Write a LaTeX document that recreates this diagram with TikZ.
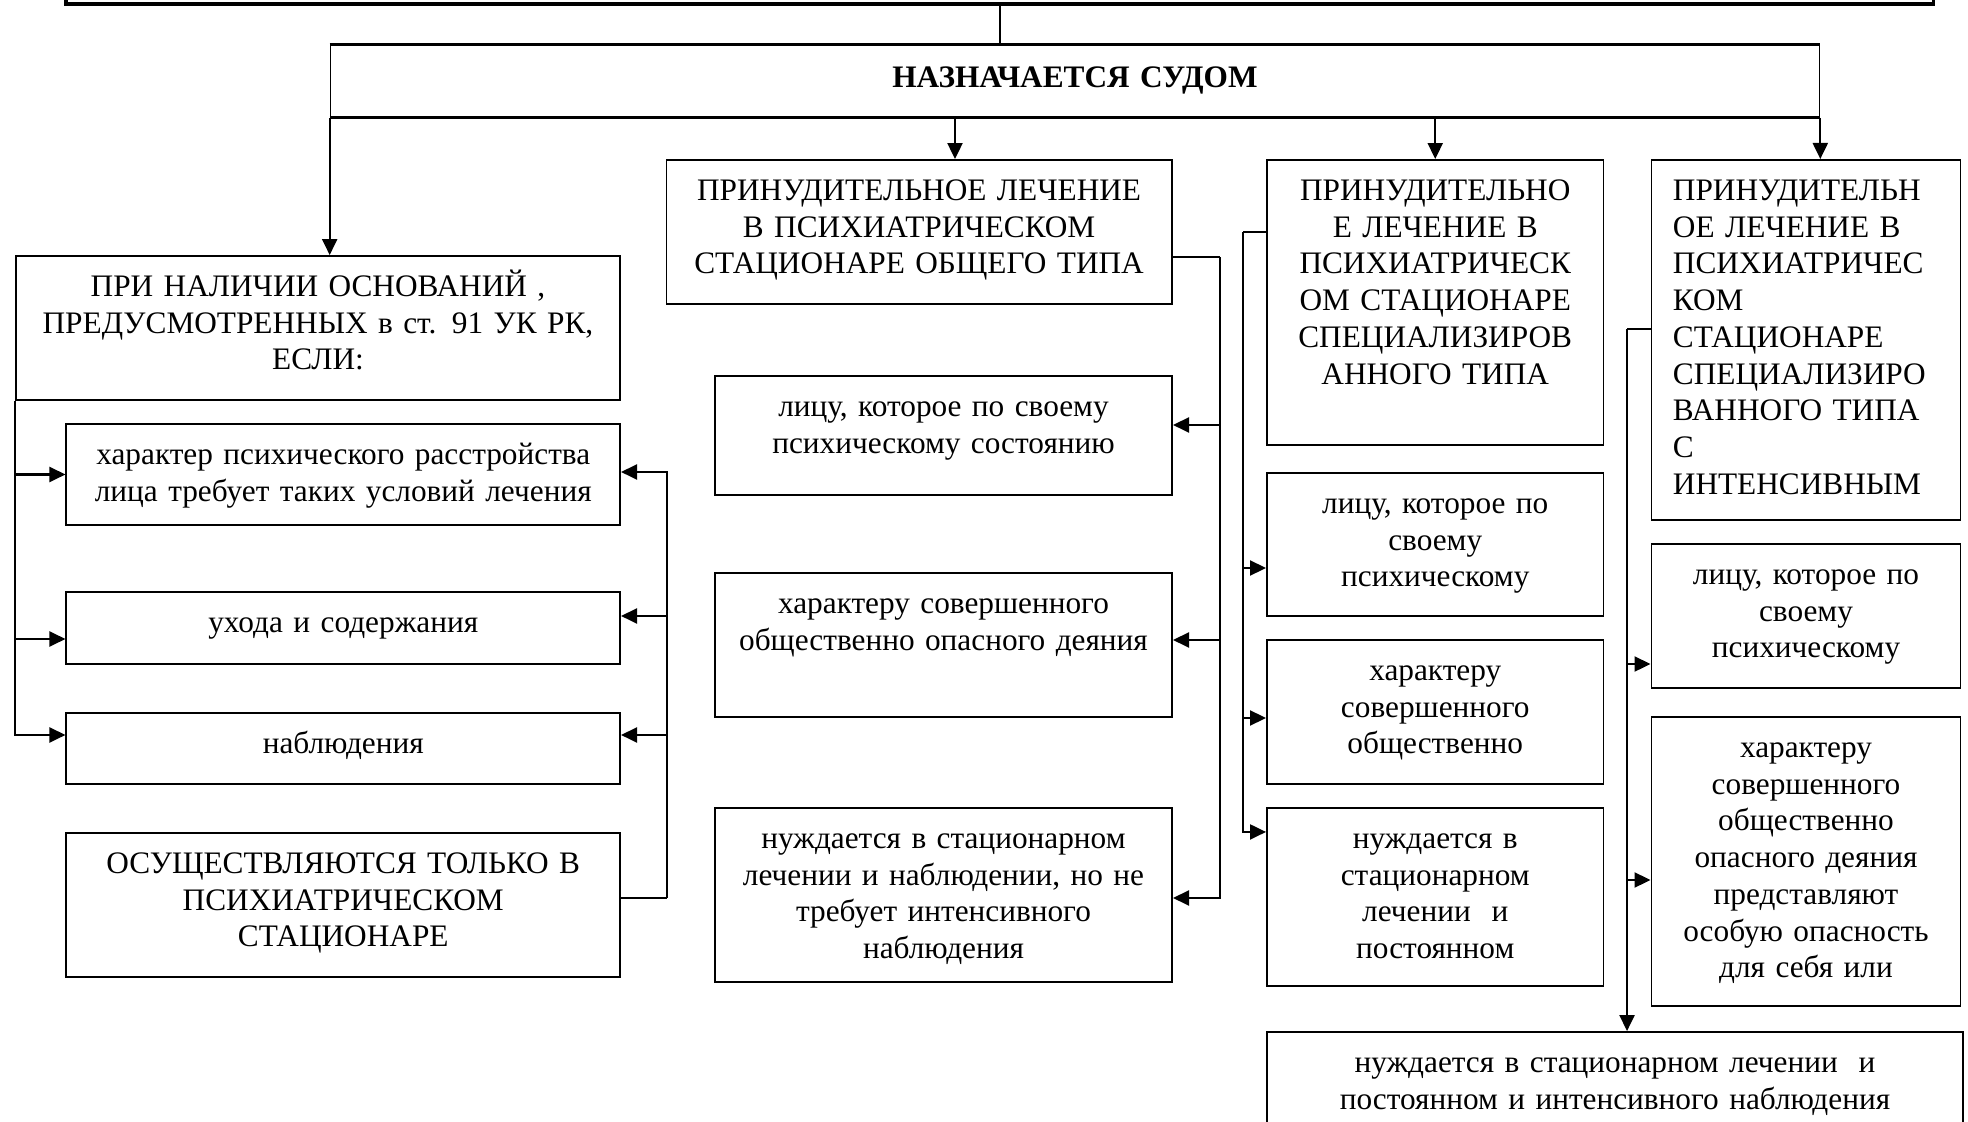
\documentclass[tikz,border=0pt]{standalone}
\usepackage{fontspec}
\setmainfont{Liberation Serif}
\usepackage{tikz}
\usetikzlibrary{arrows.meta}

\begin{document}
\begin{tikzpicture}[x=0.01cm,y=-0.01cm,font=\fontsize{8.9pt}{10.45pt}\selectfont,line width=0.5pt,
  box/.style={draw,inner sep=0pt,align=center,text height=0.405cm},
  arr/.style={line width=0.6pt,-{Triangle[length=0.16cm,width=0.15cm]}}]
\useasboundingbox (0,0) rectangle (1968,1122);
\clip (0,0) rectangle (1968,1122);
\node[draw,line width=1pt,minimum width=18.665cm,minimum height=0.64cm] (top) at (999.75,-28) {};
\node[box,minimum width=14.88cm,text width=14.5cm,text height=0.43cm,text depth=0.29cm] (sud) at (1075,81) {\textbf{НАЗНАЧАЕТСЯ СУДОМ}};
\draw[line width=0.9pt] (sud.north west) -- (sud.north east) (sud.south west) -- (sud.south east);
\node[box,minimum width=6.04cm,text width=5.74cm,text depth=1.035cm] (pri) at (318,328) {ПРИ НАЛИЧИИ ОСНОВАНИЙ ,\\ПРЕДУСМОТРЕННЫХ в ст. 91 УК РК,\\ЕСЛИ:};
\node[box,minimum width=5.535cm,text width=5.235cm,text depth=0.605cm] (har) at (343.25,474.5) {характер психического расстройства\\лица требует таких условий лечения};
\node[box,minimum width=5.535cm,text width=5.235cm,text depth=0.315cm] (uhod) at (343.25,628) {ухода и содержания};
\node[box,minimum width=5.535cm,text width=5.235cm,text depth=0.305cm] (nabl) at (343.25,748.5) {наблюдения};
\node[box,minimum width=5.535cm,text width=5.235cm,text depth=1.035cm] (osush) at (343.25,905) {ОСУЩЕСТВЛЯЮТСЯ ТОЛЬКО В\\ПСИХИАТРИЧЕСКОМ\\СТАЦИОНАРЕ};
\node[box,minimum width=5.05cm,text width=4.75cm,text depth=1.035cm] (obsh) at (919.1,232) {ПРИНУДИТЕЛЬНОЕ ЛЕЧЕНИЕ\\В ПСИХИАТРИЧЕСКОМ\\СТАЦИОНАРЕ ОБЩЕГО ТИПА};
\node[box,minimum width=4.57cm,text width=4.27cm,text depth=0.785cm] (mlic) at (943.5,435.5) {лицу, которое по своему\\психическому состоянию};
\node[box,minimum width=4.57cm,text width=4.27cm,text depth=1.035cm] (mhar) at (943.5,645) {характеру совершенного\\общественно опасного деяния};
\node[box,minimum width=4.57cm,text width=4.27cm,text depth=1.335cm] (mnuzh) at (943.5,895) {нуждается в стационарном\\лечении и наблюдении, но не\\требует интенсивного\\наблюдения};
\node[box,minimum width=3.365cm,text width=3.165cm,text depth=2.445cm] (spec) at (1435.25,302.5) {ПРИНУДИТЕЛЬНО\\Е ЛЕЧЕНИЕ В\\ПСИХИАТРИЧЕСК\\ОМ СТАЦИОНАРЕ\\СПЕЦИАЛИЗИРОВ\\АННОГО ТИПА};
\node[box,minimum width=3.365cm,text width=3.165cm,text depth=1.025cm] (slic) at (1435.25,544.5) {лицу, которое по\\своему\\психическому};
\node[box,minimum width=3.365cm,text width=3.165cm,text depth=1.035cm] (shar) at (1435.25,712) {характеру\\совершенного\\общественно};
\node[box,minimum width=3.365cm,text width=3.165cm,text depth=1.375cm] (snuzh) at (1435.25,897) {нуждается в\\стационарном\\лечении~ и\\постоянном};
\node[box,align=left,minimum width=3.09cm,text width=2.66cm,text depth=3.195cm] (ints) at (1806,340) {ПРИНУДИТЕЛЬН\\ОЕ ЛЕЧЕНИЕ В\\ПСИХИАТРИЧЕС\\КОМ\\СТАЦИОНАРЕ\\СПЕЦИАЛИЗИРО\\ВАННОГО ТИПА\\С\\ИНТЕНСИВНЫМ};
\node[box,minimum width=3.09cm,text width=2.89cm,text depth=1.035cm] (ilic) at (1806,616) {лицу, которое по\\своему\\психическому};
\node[box,minimum width=3.09cm,text width=2.89cm,text depth=2.485cm] (ihar) at (1806,861.5) {характеру\\совершенного\\общественно\\опасного деяния\\представляют\\особую опасность\\для себя или};
\node[box,minimum width=6.96cm,text width=6.66cm,text depth=0.595cm] (bot) at (1615,1082) {нуждается в стационарном лечении~ и\\постоянном и интенсивного наблюдения};

\draw (top.south) -- (top.south |- sud.north);
\draw[arr] (sud.south west) -- (sud.south west |- pri.north);
\coordinate (d1) at (955,117);
\draw[arr] (d1) -- (d1 |- obsh.north);
\draw[arr] (spec.north |- sud.south) -- (spec.north);
\draw[arr] (sud.south east) -- (sud.south east |- ints.north);

\draw[arr] (pri.south west) |- (har.west);
\draw[arr] (pri.south west) |- ([yshift=-0.11cm]uhod.west);
\draw[arr] (pri.south west) |- ([yshift=0.135cm]nabl.west);
\draw[line width=0.6pt] ([yshift=0.07cm]osush.east) -- ++(46,0) coordinate (lbus);
\draw[arr] (lbus) |- ([yshift=0.025cm]har.east);
\draw[arr] (lbus) |- ([yshift=0.12cm]uhod.east);
\draw[arr] (lbus) |- ([yshift=0.135cm]nabl.east);

\draw[line width=0.6pt] ([yshift=-0.25cm]obsh.east) -- ++(47.5,0) coordinate (mbus);
\draw[arr] (mbus) |- ([yshift=0.105cm]mlic.east);
\draw[arr] (mbus) |- ([yshift=0.05cm]mhar.east);
\draw[arr] (mbus) |- ([yshift=-0.03cm]mnuzh.east);

\draw[line width=0.6pt] ([yshift=0.705cm]spec.west) -- ++(-23,0) coordinate (sbus);
\draw[arr] (sbus) |- ([yshift=-0.235cm]slic.west);
\draw[arr] (sbus) |- ([yshift=-0.06cm]shar.west);
\draw[arr] (sbus) |- ([yshift=0.65cm]snuzh.west);

\draw[line width=0.6pt] ([yshift=0.11cm]ints.west) -- ++(-23.5,0) coordinate (ibus);
\draw[arr] (ibus) -- (ibus |- bot.north);
\draw[arr] (ibus) |- ([yshift=-0.48cm]ilic.west);
\draw[arr] (ibus) |- ([yshift=-0.185cm]ihar.west);
\end{tikzpicture}
\end{document}
